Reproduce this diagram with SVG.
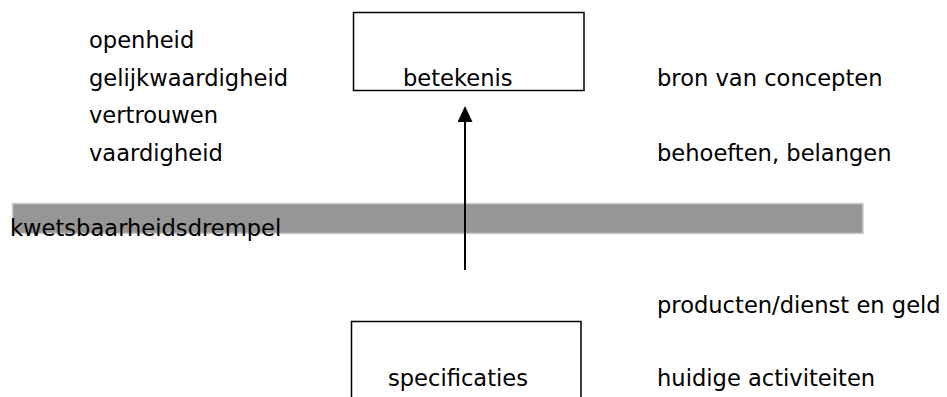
<svg xmlns="http://www.w3.org/2000/svg" width="947" height="397" viewBox="0 0 947 397">
  <defs>
    <style>
      text { font-family: "DejaVu Sans", "Noto Sans", sans-serif; font-size: 22.6px; fill: #000; }
      .box { fill: #fff; stroke: #000; stroke-width: 1.5; }
      .conn { stroke: #000; stroke-width: 2; fill: none; }
    </style>
    <marker id="arrowhead" viewBox="0 0 16 15" refX="0" refY="7.5" markerWidth="16" markerHeight="15" markerUnits="userSpaceOnUse" orient="auto">
      <path d="M0,0 L16,7.5 L0,15 Z" fill="#000"/>
    </marker>
  </defs>
  <rect width="947" height="397" fill="#fff"/>

  <!-- threshold band -->
  <g id="threshold">
    <rect x="12.5" y="203.5" width="850.5" height="30" fill="#969696" stroke="#cccccc" stroke-width="1.5"/>
    <text x="10" y="236">kwetsbaarheidsdrempel</text>
  </g>

  <!-- upper node -->
  <g id="betekenis">
    <rect class="box" x="353.5" y="12.5" width="230.5" height="78"/>
    <text x="403" y="86">betekenis</text>
  </g>

  <!-- lower node -->
  <g id="specificaties">
    <rect class="box" x="351.5" y="321.5" width="229.5" height="90"/>
    <text x="388" y="386">specificaties</text>
  </g>

  <!-- values listed to the left -->
  <g id="values">
    <text x="89" y="48">openheid</text>
    <text x="89" y="86">gelijkwaardigheid</text>
    <text x="89" y="123">vertrouwen</text>
    <text x="89" y="161">vaardigheid</text>
  </g>

  <!-- annotations to the right -->
  <g id="annotations">
    <text x="657" y="86">bron van concepten</text>
    <text x="657" y="161">behoeften, belangen</text>
    <text x="657" y="313">producten/dienst en geld</text>
    <text x="657" y="386">huidige activiteiten</text>
  </g>

  <!-- connectors -->
  <g id="connectors">
    <line class="conn" x1="465" y1="270" x2="465" y2="122" marker-end="url(#arrowhead)"/>
  </g>
</svg>
